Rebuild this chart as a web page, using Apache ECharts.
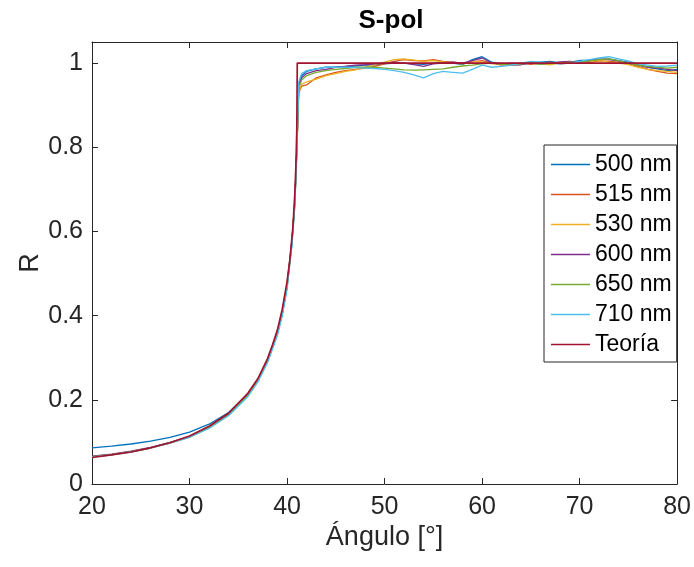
<!DOCTYPE html>
<html>
<head>
<meta charset="utf-8">
<script src="https://cdn.jsdelivr.net/npm/echarts@6/dist/echarts.min.js"></script>
<style>html,body{margin:0;padding:0;background:#fff;}#c{width:694px;height:567px;}</style>
</head>
<body>
<div id="c"></div>
<script>
const angles = [20,22,24,26,28,30,32,34,36,37,38,39,39.5,40,40.5,40.8,41.0,41.2,41.5,
  42,43,44,45,46,47,48,49,50,51,52,53,54,55,56,57,58,59,60,61,62,63,64,65,66,67,68,69,70,71,72,73,74,75,76,77,78,79,80];
const r500 = [0.086,0.090,0.095,0.102,0.111,0.123,0.142,0.170,0.214,0.247,0.292,0.356,0.403,0.468,0.572,0.668,0.790,0.950,0.970,
  0.980,0.986,0.990,0.990,0.992,0.993,0.995,0.996,0.998,1.000,1.000,0.998,0.997,1.000,1.002,1.000,0.996,1.008,1.015,1.002,0.998,1.000,0.998,1.000,1.002,1.004,1.000,1.002,1.006,1.006,1.008,1.010,1.006,1.002,0.996,0.990,0.986,0.982,0.985];
const r515 = [0.065,0.070,0.077,0.086,0.098,0.112,0.134,0.165,0.212,0.246,0.293,0.358,0.406,0.472,0.578,0.672,0.792,0.930,0.945,
  0.948,0.965,0.972,0.978,0.982,0.985,0.988,0.992,0.998,1.004,1.008,1.006,1.005,1.008,1.004,1.002,1.000,1.003,1.006,1.000,0.995,0.998,1.000,0.997,1.000,1.002,0.998,1.000,1.003,1.001,1.005,1.004,1.002,0.998,0.992,0.985,0.980,0.976,0.975];
const r530 = [0.064,0.069,0.076,0.085,0.097,0.111,0.133,0.164,0.211,0.245,0.292,0.357,0.405,0.471,0.576,0.671,0.790,0.930,0.950,
  0.955,0.962,0.970,0.975,0.980,0.984,0.990,0.996,1.002,1.008,1.010,1.007,1.004,1.006,1.003,1.000,0.998,1.004,1.002,0.998,1.000,0.996,1.000,1.002,0.998,0.996,1.000,1.003,1.000,1.004,1.006,1.002,1.000,0.996,0.990,0.985,0.982,0.980,0.978];
const r600 = [0.066,0.071,0.078,0.087,0.099,0.113,0.135,0.166,0.213,0.248,0.294,0.359,0.406,0.471,0.576,0.672,0.795,0.940,0.965,
  0.975,0.982,0.985,0.990,0.992,0.995,0.996,0.998,1.000,1.002,1.000,0.996,0.992,0.998,1.000,1.002,1.000,1.006,1.012,1.000,0.998,0.995,0.996,1.000,0.998,1.000,1.003,1.004,1.002,1.006,1.010,1.008,1.005,1.000,0.995,0.990,0.988,0.985,0.982];
const r650 = [0.065,0.070,0.077,0.086,0.098,0.112,0.134,0.164,0.211,0.245,0.291,0.355,0.402,0.466,0.570,0.665,0.785,0.940,0.960,
  0.970,0.978,0.982,0.985,0.987,0.990,0.990,0.990,0.988,0.986,0.984,0.983,0.984,0.985,0.986,0.990,0.993,0.995,0.998,1.000,0.997,0.995,0.998,1.000,0.997,0.999,1.000,1.002,1.003,1.005,1.008,1.010,1.006,1.000,0.995,0.992,0.990,0.988,0.990];
const r710 = [0.064,0.069,0.076,0.085,0.097,0.111,0.132,0.162,0.208,0.242,0.288,0.352,0.399,0.463,0.566,0.660,0.780,0.955,0.975,
  0.982,0.986,0.990,0.990,0.990,0.989,0.988,0.987,0.985,0.982,0.978,0.972,0.965,0.975,0.980,0.978,0.976,0.985,0.995,0.990,0.992,0.995,1.000,1.004,1.002,1.000,0.998,1.000,1.004,1.008,1.012,1.015,1.010,1.005,0.998,0.995,0.992,0.993,0.995];
const thAngles = [20,22,24,26,28,30,32,34,36,37,38,38.5,39,39.5,40,40.3,40.6,40.8,40.9,41.0,41.05,80];
const thR = [0.063,0.069,0.076,0.086,0.098,0.114,0.137,0.168,0.216,0.250,0.298,0.330,0.365,0.414,0.480,0.535,0.610,0.690,0.750,0.840,1.000,1.000];
const names = ['500 nm','515 nm','530 nm','600 nm','650 nm','710 nm','Teoría'];
const colors = ['#0072BD','#D95319','#EDB120','#7E2F8E','#77AC30','#4DBEEE','#A2142F'];
const xTicks = [20,30,40,50,60,70,80];
const yTicks = [0,0.2,0.4,0.6,0.8,1];

const measured = [r500,r515,r530,r600,r650,r710];
const pair = (xs, ys) => xs.map((x,i)=>[x, ys[i]]);
const series = measured.map((arr,i)=>({
  name: names[i], type:'line', data: pair(angles, arr), showSymbol:false, symbol:'none',
  lineStyle:{width:1.3, color: colors[i]}, itemStyle:{color: colors[i]}, z: 2
}));
series.push({name: names[6], type:'line', data: pair(thAngles, thR), showSymbol:false, symbol:'none',
  lineStyle:{width:1.7, color: colors[6]}, itemStyle:{color: colors[6]}, z: 3});

const axisCol = '#262626';
const font = "'Liberation Sans', Arial, Helvetica, sans-serif";
const chart = echarts.init(document.getElementById('c'), null, {renderer:'canvas'});
const xBase = {type:'value', min:20, max:80, interval:10,
  axisLine:{show:true, onZero:false, lineStyle:{color:axisCol, width:1}},
  axisTick:{show:true, inside:true, length:6, lineStyle:{color:axisCol}},
  splitLine:{show:false}};
const yBase = {type:'value', min:0, max:1.05, interval:0.2,
  axisLine:{show:true, onZero:false, lineStyle:{color:axisCol, width:1}},
  axisTick:{show:true, inside:true, length:6, lineStyle:{color:axisCol}},
  splitLine:{show:false}};
chart.setOption({
  animation:false,
  backgroundColor:'#fff',
  title:{text:'S-pol', left:386, top:3, textAlign:'center',
    textStyle:{fontFamily:font, fontWeight:'bold', fontSize:26, color:'#000'}},
  grid:{left:92, right:14, top:42, bottom:83, containLabel:false},
  legend:{orient:'vertical', left:544, top:145, data:names,
    icon:'rect', itemWidth:39, itemHeight:1.5, itemGap:7,
    padding:[8,5,6,7], backgroundColor:'#fff', borderColor:axisCol, borderWidth:1,
    textStyle:{fontFamily:font, fontSize:23, color:'#000', lineHeight:23}},
  xAxis:[
    Object.assign({}, xBase, {position:'bottom', name:'Ángulo [°]', nameLocation:'middle', nameGap:40,
      nameMoveOverlap:false,
      nameTextStyle:{fontFamily:font, fontSize:27, color:axisCol},
      axisLabel:{margin:11, fontFamily:font, fontSize:25, color:axisCol,
        formatter:v=> xTicks.includes(v) ? String(v) : ''}}),
    Object.assign({}, xBase, {position:'top', axisLabel:{show:false}})
  ],
  yAxis:[
    Object.assign({}, yBase, {position:'left', name:'R', nameLocation:'middle', nameGap:48,
      nameMoveOverlap:false,
      nameTextStyle:{fontFamily:font, fontSize:27, color:axisCol},
      axisLabel:{margin:9, fontFamily:font, fontSize:25, color:axisCol, showMaxLabel:false,
        formatter:v=>{ const t = yTicks.find(k=>Math.abs(k-v)<1e-9); return t===undefined ? '' : String(t); }}}),
    Object.assign({}, yBase, {position:'right', axisLabel:{show:false}})
  ],
  series: series
});
</script>
</body>
</html>
